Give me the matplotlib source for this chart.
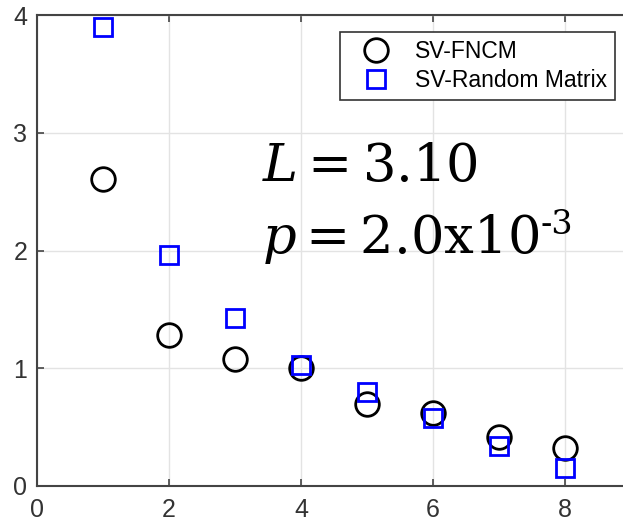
import matplotlib
matplotlib.use("Agg")
import matplotlib.pyplot as plt

plt.rcParams['font.family'] = ['Liberation Sans', 'DejaVu Sans']
plt.rcParams['mathtext.fontset'] = 'dejavuserif'

x = [1, 2, 3, 4, 5, 6, 7, 8]
sv_fncm = [2.61, 1.28, 1.08, 1.00, 0.70, 0.62, 0.42, 0.32]
sv_random = [3.90, 1.96, 1.43, 1.03, 0.80, 0.58, 0.34, 0.15]
xticks = [0, 2, 4, 6, 8]
yticks = [0, 1, 2, 3, 4]

fig = plt.figure(figsize=(6.23, 5.25), dpi=100)
ax = fig.add_axes([0.0594, 0.0743, 0.9535, 0.897])

ax.plot(x, sv_fncm, 'o', mfc='none', mec='black', ms=17, mew=2, label='SV-FNCM')
ax.plot(x, sv_random, 's', mfc='none', mec='blue', ms=12.5, mew=2, label='SV-Random Matrix')

ax.set_xlim(0, 9)
ax.set_ylim(0, 4)
ax.set_xticks(xticks)
ax.set_yticks(yticks)
ax.grid(True, color='#e3e3e3', lw=1)
ax.set_axisbelow(True)
for s in ax.spines.values():
    s.set_color('#444444')
    s.set_linewidth(1.5)
ax.tick_params(direction='in', length=5, width=1.2, color='#444444',
               labelsize=18, labelcolor='#333333', top=True)
ax.tick_params(axis='x', pad=9)
ax.tick_params(axis='y', pad=7)

leg = ax.legend(loc='upper right', bbox_to_anchor=(615 / 623, 1 - 32 / 525),
                bbox_transform=fig.transFigure, fontsize=16.5, fancybox=False,
                edgecolor='#333333', framealpha=1, borderpad=0.35,
                borderaxespad=0, handletextpad=0.5, handlelength=2.4,
                labelspacing=0.25)
leg.get_frame().set_linewidth(1.2)

# annotation: L and p values
ax.text(262, 525 - 181, r'$L = 3.10$', fontsize=38, color='black',
        transform=None)
t = ax.text(262, 525 - 253, r'$p = 2.0\mathrm{x}10$', fontsize=38,
            color='black', transform=None)
fig.canvas.draw()
bb = t.get_window_extent()
ax.text(bb.x1 + 1, 525 - 234, '-3', fontsize=24, color='black',
        family='DejaVu Serif', transform=None)

fig.savefig('out.png', dpi=100)
